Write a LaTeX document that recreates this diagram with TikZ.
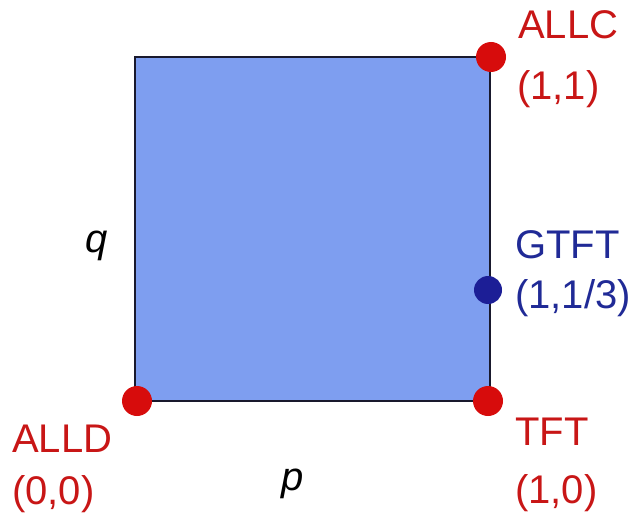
\documentclass[tikz,border=0pt]{standalone}
\usepackage{fontspec}
\setmainfont{Liberation Sans}
\definecolor{sqfill}{RGB}{126,158,240}
\definecolor{sqline}{RGB}{25,25,45}
\definecolor{dotred}{RGB}{215,12,12}
\definecolor{txtred}{RGB}{200,22,22}
\definecolor{dotblue}{RGB}{28,30,150}
\definecolor{txtblue}{RGB}{32,42,150}
\tikzset{
  lbl/.style={anchor=base west, inner sep=0pt, font=\fontsize{40}{50}\selectfont},
  redlbl/.style={lbl, text=txtred},
  bluelbl/.style={lbl, text=txtblue},
  axlbl/.style={anchor=base, inner sep=0pt, font=\fontsize{40}{50}\selectfont\itshape},
  reddot/.style={circle, fill=dotred, minimum size=30pt, inner sep=0pt},
  bluedot/.style={circle, fill=dotblue, minimum size=28pt, inner sep=0pt}
}
\begin{document}
\begin{tikzpicture}[x=1pt,y=-1pt]
\useasboundingbox (0,0) rectangle (636,513);
\draw[sqline, line width=2pt, fill=sqfill] (135,57) rectangle (490,401);
\node[reddot] (allc) at (491,57) {};
\node[reddot] (alld) at (137,401) {};
\node[reddot] (tft) at (488,401) {};
\node[bluedot] (gtft) at (488,290) {};
\node[redlbl] (allct) at (518,39) {ALLC};
\node[redlbl] (allcc) at (517,100) {(1,1)};
\node[bluelbl] (gtftt) at (515,258) {GTFT};
\node[bluelbl] (gtftc) at (515,308) {(1,1/3)};
\node[redlbl] (alldt) at (12,452) {ALLD};
\node[redlbl] (alldc) at (12,504) {(0,0)};
\node[redlbl] (tftt) at (515,445) {TFT};
\node[redlbl] (tftc) at (515,503) {(1,0)};
\node[axlbl] (q) at (97,252) {q};
\node[axlbl] (p) at (293,490) {p};
\end{tikzpicture}
\end{document}
